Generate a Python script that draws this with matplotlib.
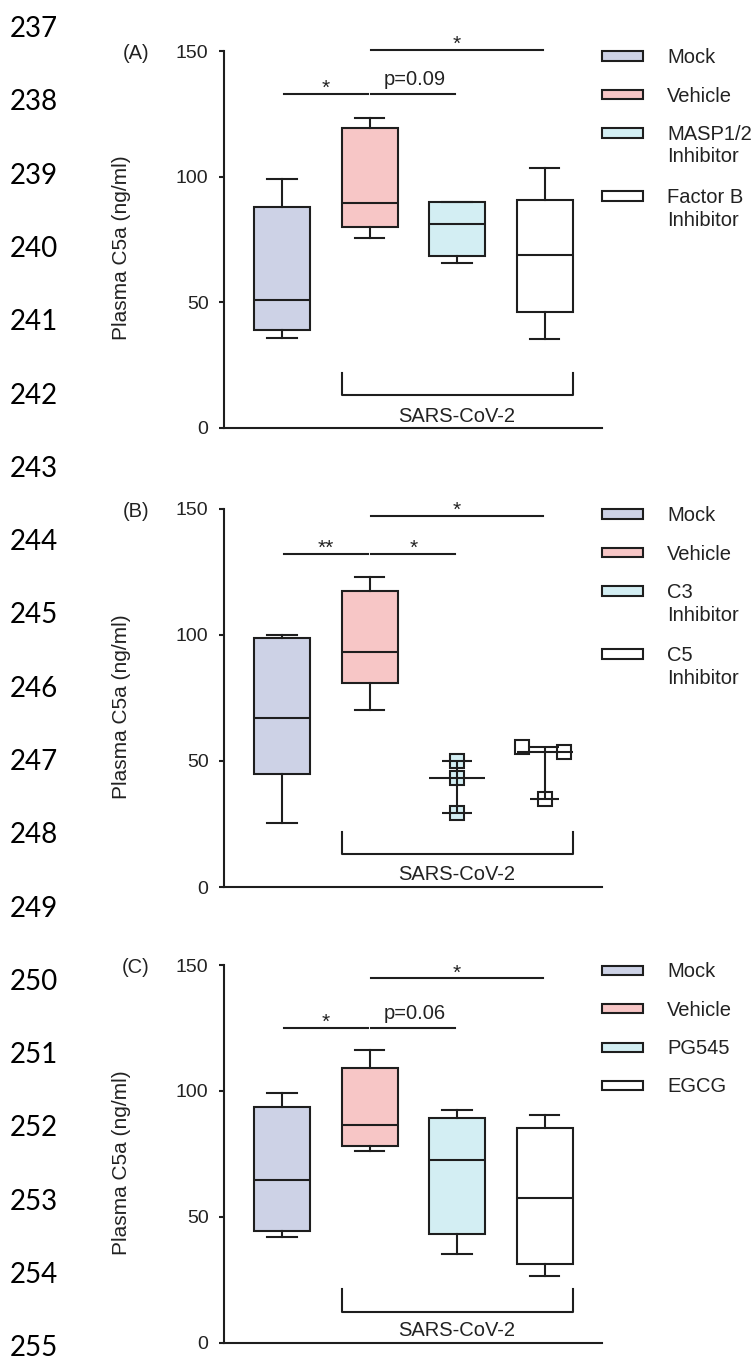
import numpy as np
import matplotlib.pyplot as plt
from matplotlib.patches import Rectangle

plt.rcParams['font.family'] = ['Liberation Sans', 'DejaVu Sans']

# values (box: whisker low, Q1, median, Q3, whisker high)
groups_a = ['Mock', 'Vehicle', 'MASP1/2\nInhibitor', 'Factor B\nInhibitor']
low_a = [35.7, 75.7, 65.5, 35.4]
q1_a = [39.0, 80.1, 68.6, 46.3]
med_a = [50.8, 89.5, 81.0, 68.8]
q3_a = [88.1, 119.5, 89.8, 90.6]
high_a = [99.1, 123.5, 89.8, 103.3]

groups_b = ['Mock', 'Vehicle', 'C3\nInhibitor', 'C5\nInhibitor']
low_b = [25.4, 70.4]
q1_b = [45.0, 80.8]
med_b = [67.1, 93.3]
q3_b = [98.8, 117.3]
high_b = [99.9, 123.0]
c3_points = [50.0, 43.3, 29.3]
c5_points = [55.7, 53.7, 35.0]

groups_c = ['Mock', 'Vehicle', 'PG545', 'EGCG']
low_c = [41.8, 75.9, 35.2, 26.6]
q1_c = [44.5, 78.0, 43.0, 31.2]
med_c = [64.6, 86.5, 72.6, 57.3]
q3_c = [93.5, 109.0, 89.1, 85.4]
high_c = [99.3, 116.1, 92.3, 90.4]

# significance bars: (group from, group to, height, label)
sig_a = [(1, 2, 132.8, '*'), (2, 3, 132.8, 'p=0.09'), (2, 4, 150.4, '*')]
sig_b = [(1, 2, 132.3, '**'), (2, 3, 132.3, '*'), (2, 4, 147.4, '*')]
sig_c = [(1, 2, 125.1, '*'), (2, 3, 125.1, 'p=0.06'), (2, 4, 144.7, '*')]

line_numbers = list(range(237, 256))
colors = ['#cdd2e6', '#f7c6c6', '#d3eef3', '#ffffff']
lc = '#1e1e1e'
tc = '#222222'
W, H = 754, 1362

fig = plt.figure(figsize=(W / 100, H / 100), dpi=100)


def make_axes(top, bottom, tag):
    ax = fig.add_axes([224 / W, 1 - bottom / H, 378 / W, (bottom - top) / H])
    ax.set_xlim(0.337, 4.657)
    ax.set_ylim(0, 150)
    ax.spines['top'].set_visible(False)
    ax.spines['right'].set_visible(False)
    for s in ['left', 'bottom']:
        ax.spines[s].set_linewidth(1.5)
        ax.spines[s].set_color(lc)
    ax.set_yticks([0, 50, 100, 150])
    ax.tick_params(axis='y', direction='out', length=3.6, width=1.5, color=lc,
                   labelsize=14, pad=7.5, labelcolor=tc)
    ax.set_ylabel('Plasma C5a (ng/ml)', fontsize=15, color=tc)
    ax.yaxis.set_label_coords(-0.246, 0.477)
    fig.text(136 / W, 1 - (top + 8) / H, tag, ha='center', va='baseline', fontsize=14.5, color=tc)
    return ax


def boxes(ax, lows, q1s, meds, q3s, highs, cols):
    stats = []
    for lo, a, m, b, hi in zip(lows, q1s, meds, q3s, highs):
        stats.append({'whislo': lo, 'q1': a, 'med': m, 'q3': b, 'whishi': hi, 'fliers': []})
    pos = list(range(1, len(stats) + 1))
    bp = ax.bxp(stats, positions=pos, widths=0.64, capwidths=0.34, patch_artist=True,
                showfliers=False, manage_ticks=False,
                boxprops=dict(linewidth=1.5, edgecolor=lc),
                medianprops=dict(linewidth=1.5, color=lc),
                whiskerprops=dict(linewidth=1.5, color=lc),
                capprops=dict(linewidth=1.5, color=lc))
    for patch, c in zip(bp['boxes'], cols):
        patch.set_facecolor(c)
    ax.set_xticks([])


def significance(ax, sig):
    for x1, x2, y, lab in sig:
        ax.plot([x1 + 0.02, x2 - 0.02], [y, y], color=lc, lw=1.5, clip_on=False)
        if lab.startswith('p'):
            ax.text((x1 + x2) / 2 + 0.02, y + 3.5, lab, ha='center', va='baseline',
                    fontsize=14.5, color=tc)
        else:
            ax.text((x1 + x2) / 2, y, lab, ha='center', va='baseline', fontsize=15, color=tc)


def bracket(ax, ytop, ybot, ytext):
    ax.plot([1.68, 1.68, 4.32, 4.32], [ytop, ybot, ybot, ytop], color=lc, lw=1.5)
    ax.text(3.0, ytext, 'SARS-CoV-2', ha='center', va='baseline', fontsize=14.5, color=tc)


def legend(top, groups):
    y = top + 5
    for name, c in zip(groups, colors):
        fig.add_artist(Rectangle((602 / W, 1 - (y + 4.5) / H), 41 / W, 9 / H,
                                 transform=fig.transFigure, facecolor=c, edgecolor=lc, lw=1.5))
        lines = name.split('\n')
        for k, t in enumerate(lines):
            fig.text(667 / W, 1 - (y + 7 + 22.5 * k) / H, t, fontsize=14.5, va='baseline', color=tc)
        y += 38.5 + 24.5 * (len(lines) - 1)


# (A)
ax = make_axes(51, 428, '(A)')
boxes(ax, low_a, q1_a, med_a, q3_a, high_a, colors)
significance(ax, sig_a)
bracket(ax, 21.9, 13.3, 2.4)
legend(51, groups_a)

# (B)
ax = make_axes(509, 887, '(B)')
boxes(ax, low_b, q1_b, med_b, q3_b, high_b, colors[:2])
jitter = {3: [0, 0, 0], 4: [-0.26, 0.22, 0]}
for pos, pts, c in [(3, c3_points, colors[2]), (4, c5_points, colors[3])]:
    ax.plot(pos + np.array(jitter[pos]), pts, 's', ms=10.5, mfc=c, mec=lc, mew=1.5, zorder=2)
    ax.vlines(pos, min(pts), max(pts), color=lc, lw=1.5, zorder=3)
    ax.hlines([min(pts), max(pts)], pos - 0.17, pos + 0.17, color=lc, lw=1.5, zorder=3)
    ax.hlines(np.median(pts), pos - 0.32, pos + 0.32, color=lc, lw=1.5, zorder=3)
significance(ax, sig_b)
bracket(ax, 21.7, 13.1, 2.8)
legend(509, groups_b)

# (C)
ax = make_axes(965, 1342.5, '(C)')
boxes(ax, low_c, q1_c, med_c, q3_c, high_c, colors)
significance(ax, sig_c)
bracket(ax, 21.2, 12.3, 2.6)
legend(965, groups_c)

# manuscript line numbers
for i, n in enumerate(line_numbers):
    fig.text(10 / W, 1 - (37 + 73.3 * i) / H, str(n), fontsize=20, family=['Lato', 'DejaVu Sans'],
             va='baseline', color='black')

plt.savefig('out.png', dpi=100)
